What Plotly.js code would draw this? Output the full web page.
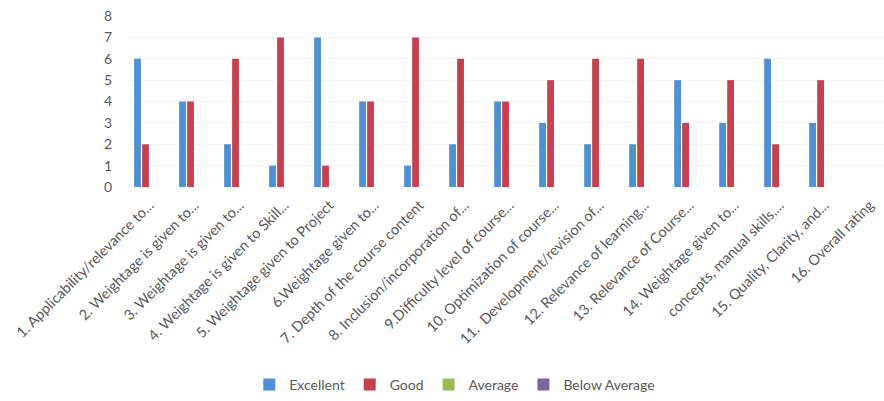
<!DOCTYPE html>
<html><head><meta charset="utf-8">
<script src="https://cdn.plot.ly/plotly-3.0.1.min.js"></script>
<style>html,body{margin:0;padding:0;background:#fff;}#chart{width:884px;height:401px;}</style>
</head><body><div id="chart"></div>
<script>
var categories = [
  "1. Applicability/relevance to...",
  "2. Weightage is given to...",
  "3. Weightage is given to...",
  "4. Weightage is given to Skill...",
  "5. Weightage given to Project",
  "6.Weightage given to...",
  "7. Depth of the course content",
  "8. Inclusion/incorporation of...",
  "9.Difficulty level of course...",
  "10. Optimization of course...",
  "11.  Development/revision of...",
  "12. Relevance of learning...",
  "13. Relevance of Course...",
  "14. Weightage given to...",
  "concepts, manual skills,...",
  "15. Quality, Clarity, and...",
  "16. Overall rating"
];
var excellent = [6, 4, 2, 1, 7, 4, 1, 2, 4, 3, 2, 2, 5, 3, 6, 3, null];
var good      = [2, 4, 6, 7, 1, 4, 7, 6, 4, 5, 6, 6, 3, 5, 2, 5, null];
var average   = [0, 0, 0, 0, 0, 0, 0, 0, 0, 0, 0, 0, 0, 0, 0, 0, null];
var belowAverage = [0, 0, 0, 0, 0, 0, 0, 0, 0, 0, 0, 0, 0, 0, 0, 0, null];
var yTicks = [0, 1, 2, 3, 4, 5, 6, 7, 8];

var font = "Lato, 'Open Sans', sans-serif";
function tr(name, y, color) {
  return {type: "bar", name: name, x: categories, y: y,
          marker: {color: color, line: {width: 0}}, hoverinfo: "none"};
}
var data = [
  tr("Excellent", excellent, "#4F8FD3"),
  tr("Good", good, "#C6414F"),
  tr("Average", average, "#9BBB59"),
  tr("Below Average", belowAverage, "#8064A2")
];
var layout = {
  width: 884, height: 401,
  margin: {l: 127, r: 0, t: 16, b: 213},
  paper_bgcolor: "#fff", plot_bgcolor: "#fff",
  barmode: "group", bargap: 0.29, bargroupgap: 0.15,
  font: {family: font, color: "#595959", size: 12},
  xaxis: {type: "category", range: [-0.5, 16.32], tickangle: -45,
          showgrid: false, zeroline: false, showline: false, ticks: "",
          ticklabelstandoff: 6,
          tickfont: {size: 14.5, color: "#595959"}, fixedrange: true},
  yaxis: {range: [0, 8], tickvals: yTicks, showgrid: true, gridcolor: "#f4f4f4",
          zeroline: false, showline: false, ticks: "", ticklabelstandoff: 14,
          tickfont: {size: 14, color: "#595959"}, fixedrange: true},
  showlegend: true,
  legend: {orientation: "h", x: 0.433, xanchor: "center", y: -1.163, yanchor: "middle",
           font: {size: 14, color: "#595959"}, itemwidth: 30, tracegroupgap: 0}
};
Plotly.newPlot("chart", data, layout, {staticPlot: true});
</script></body></html>
